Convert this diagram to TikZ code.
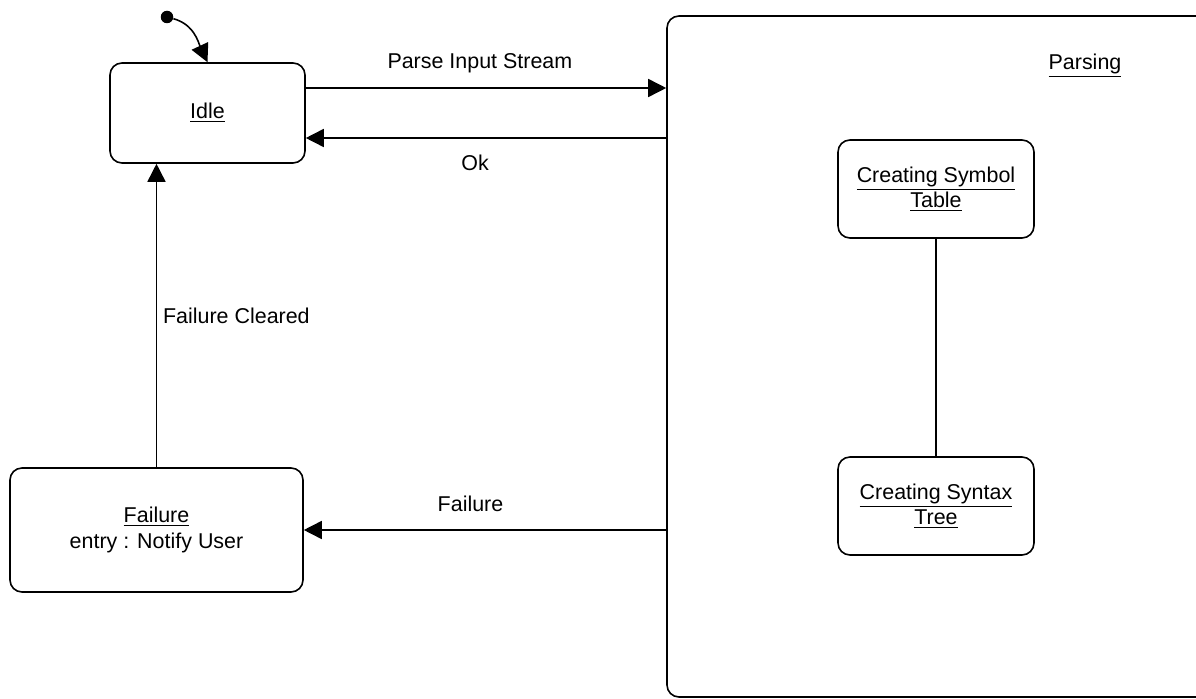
\documentclass[tikz,border=0pt]{standalone}
\usepackage{fontspec}
\setmainfont{Liberation Sans}
\usetikzlibrary{arrows.meta,positioning}

\tikzset{
  state/.style={draw, rounded corners=0.24cm, line width=0.9pt, align=center, inner sep=0pt},
  trans/.style={line width=0.9pt, -{Triangle[length=0.36cm,width=0.36cm]}}
}

\begin{document}
\begin{tikzpicture}[font=\fontsize{12.2}{14.5}\selectfont]
\clip (0,0) rectangle (23.92,13.96);

% ---- Simple states (left) ----
\node[state, minimum width=3.9cm, minimum height=2cm] (idle) at (4.15,11.70) {\underline{Idle}};
\node[state, minimum width=5.86cm, minimum height=2.48cm] (failure) at (3.13,3.36) {\underline{Failure}\\entry : Notify User};

% Initial pseudo state
\node[circle, fill, inner sep=0pt, minimum size=0.25cm] (init) at (3.34,13.62) {};
\draw[trans] (init) to[out=-15, in=115] (idle.north);

% ---- Composite state Parsing (right edge runs off the page) ----
\node[state, minimum width=11.86cm, minimum height=13.62cm] (parsing) at (19.27,6.83) {};
\node (parsinglbl) at (21.70,12.64) {\underline{Parsing}};

% Substates
\node[state, minimum width=3.92cm, minimum height=1.96cm] (symtab) at (18.72,10.18) {\underline{Creating Symbol}\\\underline{Table}};
\node[state, minimum width=3.92cm, minimum height=1.96cm] (syntree) at (18.72,3.84) {\underline{Creating Syntax}\\\underline{Tree}};
\draw[line width=0.9pt] (symtab) -- (syntree);

% ---- Transitions ----
\draw[trans] ([yshift=0.5cm]idle.east) -- ([yshift=0.5cm]idle.east -| parsing.west)
  node[pos=0.483, yshift=0.5cm] {Parse Input Stream};
\draw[trans] ([yshift=-0.5cm]idle.east -| parsing.west) -- ([yshift=-0.5cm]idle.east)
  node[pos=0.53, yshift=-0.5cm] {Ok};
\draw[trans] (failure.east -| parsing.west) -- (failure.east)
  node[pos=0.54, yshift=0.52cm] {Failure};
\draw[trans] (failure.north) -- (failure.north |- idle.south)
  node[midway, right=0pt] {Failure Cleared};

\end{tikzpicture}
\end{document}
